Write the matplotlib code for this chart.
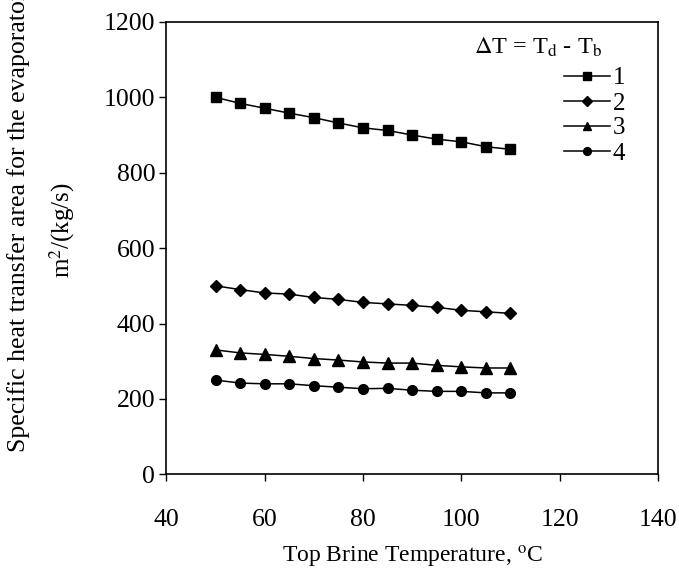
import matplotlib
matplotlib.use("Agg")
import matplotlib.pyplot as plt

temps = [50, 55, 60, 65, 70, 75, 80, 85, 90, 95, 100, 105, 110]
dt1 = [1000, 984, 971, 958, 946, 932, 919, 912, 900, 889, 882, 869, 862]
dt2 = [500, 490, 481, 478, 469, 464, 456, 452, 448, 443, 435, 431, 427]
dt3 = [330, 322, 318, 313, 307, 303, 298, 295, 295, 289, 285, 282, 282]
dt4 = [250, 242, 240, 240, 235, 231, 227, 228, 223, 220, 220, 216, 216]
labels = ["1", "2", "3", "4"]
markers = ["s", "D", "^", "o"]
msizes = [7.5, 6.5, 8, 7]

plt.rcParams["font.family"] = ["Liberation Serif", "DejaVu Serif"]
plt.rcParams["mathtext.fontset"] = "stix"

fig = plt.figure(figsize=(6.79, 5.77), dpi=100)
ax = fig.add_axes([0.245, 0.178, 0.724, 0.784])

for ys, lab, m, ms in zip([dt1, dt2, dt3, dt4], labels, markers, msizes):
    ax.plot(temps, ys, color="black", lw=1.1, marker=m, markersize=ms, label=lab)

ax.set_xlim(40, 140)
ax.set_ylim(0, 1200)
ax.set_xticks([40, 60, 80, 100, 120, 140])
ax.set_yticks([0, 200, 400, 600, 800, 1000, 1200])
ax.tick_params(direction="out", length=5, width=1, labelsize=18.5, colors="black")
ax.tick_params(axis="x", pad=20)
ax.tick_params(axis="y", pad=3)
for s in ax.spines.values():
    s.set_linewidth(1.2)

ax.set_xlabel("Top Brine Temperature, $^\\mathrm{o}$C", fontsize=17, labelpad=9)

fig.text(0.027, 1 - 452 / 577, "Specific heat transfer area for the evaporator", rotation=90,
         fontsize=18.5, ha="center", va="bottom")
fig.text(0.092, 1 - 230 / 577, "m$^2$/(kg/s)", rotation=90, fontsize=18, ha="center", va="center")

fig.text(538 / 679, 1 - 47 / 577, "$\\Delta$T = T$_\\mathrm{d}$ - T$_\\mathrm{b}$",
         fontsize=17.5, ha="center", va="center")

leg = fig.legend(loc="upper left", bbox_to_anchor=(564 / 679, 1 - 67 / 577), frameon=False,
                 fontsize=18, handlelength=1.85, handletextpad=0.1, labelspacing=0.1,
                 borderpad=0, borderaxespad=0, markerscale=0.8)

fig.savefig("out.png", dpi=100)
